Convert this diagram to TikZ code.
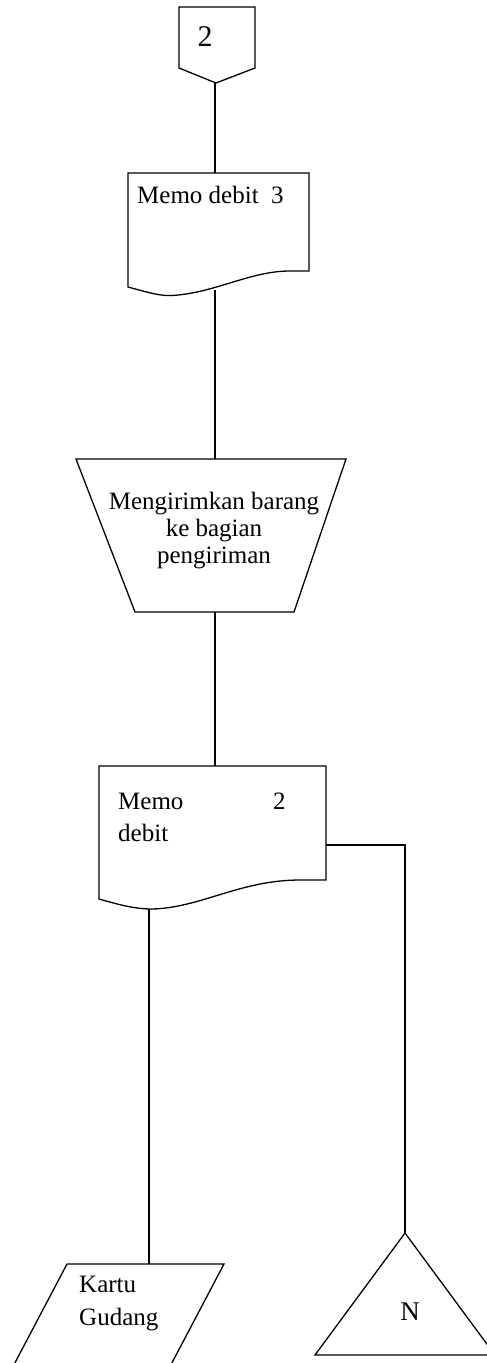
\documentclass[tikz,border=0pt]{standalone}
\usepackage{fontspec}
\setmainfont{Liberation Serif}
\begin{document}
\begin{tikzpicture}[x=1pt,y=-1pt,
  shape line/.style={draw=black,line width=1.3pt,line join=miter},
  link/.style={draw=black,line width=1.3pt},
  label text/.style={inner sep=0pt,font=\fontsize{25}{32}\selectfont}]
\useasboundingbox (0,0) rectangle (487,1363);
\clip (0,0) rectangle (487,1363);

% off-page connector "2"
\draw[shape line] (179,7) -- (255,7) -- (255,68) -- (216,83) -- (179,68) -- cycle;
\node[label text,font=\fontsize{30}{32}\selectfont] (offtxt) at (205,37) {2};
\coordinate (offB) at (215,83);

% document: Memo debit 3
\draw[shape line] (128,287) -- (128,173) -- (309,173) -- (309,271) -- (290,271)
  .. controls (250,271) and (215,293) .. (172,295.5)
  .. controls (160,296) and (150,293) .. (128,287) -- cycle;
\node[label text,anchor=base west] (memoA) at (137,203) {Memo debit\ \ 3};
\coordinate (memoAT) at (215,173);
\coordinate (memoAB) at (215,290);

% manual operation
\draw[shape line] (76,459) -- (346,459) -- (294,612) -- (135,612) -- cycle;
\node[label text,align=center,font=\fontsize{25}{27}\selectfont] (proc) at (214,531)
  {Mengirimkan barang\\ke bagian\\pengiriman};
\coordinate (procT) at (215,459);
\coordinate (procB) at (215,612);

% document: Memo debit 2
\draw[shape line] (99,899) -- (99,766) -- (326,766) -- (326,880) -- (300,880)
  .. controls (240,880) and (200,908) .. (152,909)
  .. controls (135,909) and (120,905) .. (99,899) -- cycle;
\node[label text,anchor=base west] (memoB1) at (118,809) {Memo};
\node[label text,anchor=base west] (memoB2) at (273,809) {2};
\node[label text,anchor=base west] (memoB3) at (118,841) {debit};
\coordinate (memoBT) at (215,766);
\coordinate (memoBB) at (149,909);
\coordinate (memoBR) at (326,845);
\coordinate (turn) at (405,845);

% data: Kartu Gudang
\draw[shape line] (67,1264) -- (224,1264) -- (165,1376) -- (8,1376) -- cycle;
\node[label text,anchor=base west] (kartu1) at (79,1292) {Kartu};
\node[label text,anchor=base west] (kartu2) at (79,1325) {Gudang};
\coordinate (kartuT) at (149,1264);

% offline storage
\draw[shape line] (405,1233) -- (495,1355) -- (315,1355) -- cycle;
\node[label text,font=\fontsize{27}{30}\selectfont] (ntxt) at (410,1312) {N};
\coordinate (storT) at (405,1233);

% connectors
\draw[link] (offB) -- (memoAT);
\draw[link] (memoAB) -- (procT);
\draw[link] (procB) -- (memoBT);
\draw[link] (memoBB) -- (kartuT);
\draw[link] (memoBR) -- (turn) -- (storT);
\end{tikzpicture}
\end{document}
